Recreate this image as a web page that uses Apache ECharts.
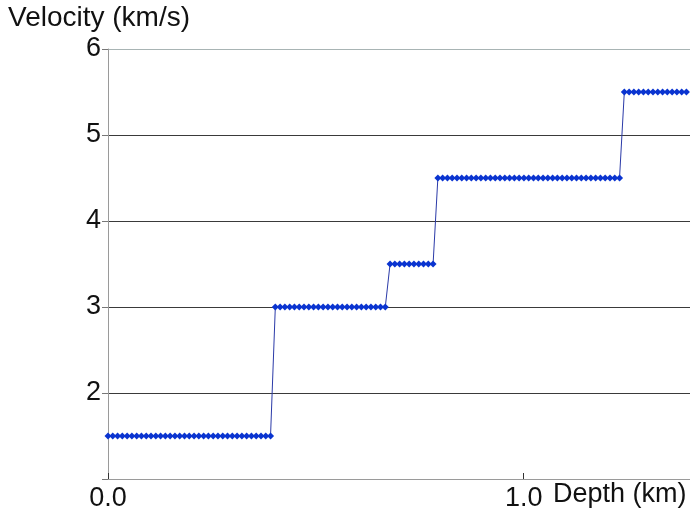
<!DOCTYPE html>
<html><head><meta charset="utf-8">
<script src="https://cdn.jsdelivr.net/npm/echarts@6/dist/echarts.min.js"></script>
<style>html,body{margin:0;padding:0;background:#fff}#c{width:690px;height:514px}</style>
</head><body><div id="c"></div>
<script>
const depthKm = [0,0.0115,0.023,0.0345,0.046,0.0575,0.069,0.0805,0.092,0.1035,0.115,0.1265,0.138,0.1495,0.161,0.1725,0.184,0.1955,0.207,0.2185,0.23,0.2415,0.253,0.2645,0.276,0.2875,0.299,0.3105,0.322,0.3335,0.345,0.3565,0.368,0.3795,0.391,
0.4025,0.414,0.4255,0.437,0.4485,0.46,0.4715,0.483,0.4945,0.506,0.5175,0.529,0.5405,0.552,0.5635,0.575,0.5865,0.598,0.6095,0.621,0.6325,0.644,0.6555,0.667,
0.6785,0.69,0.7015,0.713,0.7245,0.736,0.7475,0.759,0.7705,0.782,
0.7935,0.805,0.8165,0.828,0.8395,0.851,0.8625,0.874,0.8855,0.897,0.9085,0.92,0.9315,0.943,0.9545,0.966,0.9775,0.989,1.0005,1.012,1.0235,1.035,1.0465,1.058,1.0695,1.081,1.0925,1.104,1.1155,1.127,1.1385,1.15,1.1615,1.173,1.1845,1.196,1.2075,1.219,1.2305,
1.242,1.2535,1.265,1.2765,1.288,1.2995,1.311,1.3225,1.334,1.3455,1.357,1.3685,1.38,1.3915];
const velocityKmS = [1.5,1.5,1.5,1.5,1.5,1.5,1.5,1.5,1.5,1.5,1.5,1.5,1.5,1.5,1.5,1.5,1.5,1.5,1.5,1.5,1.5,1.5,1.5,1.5,1.5,1.5,1.5,1.5,1.5,1.5,1.5,1.5,1.5,1.5,1.5,
3,3,3,3,3,3,3,3,3,3,3,3,3,3,3,3,3,3,3,3,3,3,3,3,
3.5,3.5,3.5,3.5,3.5,3.5,3.5,3.5,3.5,3.5,
4.5,4.5,4.5,4.5,4.5,4.5,4.5,4.5,4.5,4.5,4.5,4.5,4.5,4.5,4.5,4.5,4.5,4.5,4.5,4.5,4.5,4.5,4.5,4.5,4.5,4.5,4.5,4.5,4.5,4.5,4.5,4.5,4.5,4.5,4.5,4.5,4.5,4.5,4.5,
5.5,5.5,5.5,5.5,5.5,5.5,5.5,5.5,5.5,5.5,5.5,5.5,5.5,5.5];
const xTitle = 'Depth (km)';
const yTitle = 'Velocity (km/s)';

const chart = echarts.init(document.getElementById('c'));
const font = 'Liberation Sans, Arial, sans-serif';
chart.setOption({
  animation: false,
  backgroundColor: '#fff',
  grid: {left: 108, right: 0, top: 49, bottom: 35, containLabel: false},
  xAxis: {
    type: 'value', min: 0, max: 1.4, interval: 1,
    axisLine: {show: true, onZero: false, lineStyle: {color: '#9a9a9a', width: 1}},
    axisTick: {show: true, inside: true, length: 6, lineStyle: {color: '#333'}},
    splitLine: {show: false},
    axisLabel: {color: '#111', fontSize: 27, fontFamily: font, margin: 6,
      formatter: v => v.toFixed(1), showMaxLabel: false}
  },
  yAxis: {
    type: 'value', min: 1, max: 6, interval: 1,
    axisLine: {show: true, lineStyle: {color: '#9a9a9a', width: 1}},
    axisTick: {show: true, inside: false, length: 6, lineStyle: {color: '#777'}},
    splitLine: {show: true, lineStyle: {color: ['#9a9a9a','#3a3a3a','#3a3a3a','#3a3a3a','#3a3a3a','#a8b4b4'], width: 1}},
    axisLabel: {color: '#111', fontSize: 27, fontFamily: font, margin: 7,
      formatter: v => (v === 1 ? '' : String(v))}
  },
  graphic: [
    {type: 'text', left: 8, top: 4, style: {text: yTitle, fontSize: 28, fontFamily: font, fill: '#111'}},
    {type: 'text', left: 553, top: 481, style: {text: xTitle, fontSize: 27, fontFamily: font, fill: '#111'}}
  ],
  series: [{
    type: 'line',
    data: depthKm.map((d, i) => [d, velocityKmS[i]]),
    symbol: 'diamond', symbolSize: 7, showSymbol: true,
    lineStyle: {color: '#2b3aa8', width: 1},
    itemStyle: {color: '#0a34d0'},
    clip: true
  }]
});
</script></body></html>
